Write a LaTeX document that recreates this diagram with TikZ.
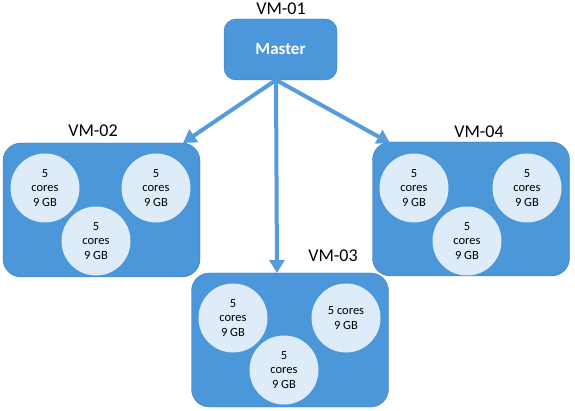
\documentclass[tikz,border=0pt]{standalone}
\usepackage{fontspec}
\setmainfont{Carlito}
\usetikzlibrary{positioning,arrows.meta}
\definecolor{vmblue}{RGB}{76,150,218}
\definecolor{vmedge}{RGB}{58,118,182}
\definecolor{corefill}{RGB}{222,235,248}
\definecolor{linkblue}{RGB}{86,155,220}

\begin{document}
\begin{tikzpicture}[x=1pt,y=-1pt,>={Triangle[length=13pt,width=15pt]},
    vm node/.style={rounded corners=18pt,draw=vmedge,fill=vmblue,minimum width=197pt,minimum height=134pt},
    master node/.style={rounded corners=12pt,draw=vmedge,fill=vmblue,minimum width=113pt,minimum height=61pt,text=white,font=\fontsize{17}{20}\selectfont\bfseries},
    core node/.style={circle,fill=corefill,minimum size=69pt,inner sep=0pt,align=center,font=\fontsize{12.5}{14.5}\selectfont},
    vm label/.style={font=\fontsize{18}{21}\selectfont},
    link/.style={->,draw=linkblue,line width=4pt}]
            \useasboundingbox (0,0) rectangle (575,411);

            \node[master node] (1) at (280.5,49.5) {Master};
            \node[vm node] (2) at (101.5,210) {};
            \node[vm node] (3) at (290,340) {};
            \node[vm node] (4) at (471,209) {};

            \node[vm label] (l1) at (281,9) {VM-01};
            \node[vm label] (l2) at (93,131) {VM-02};
            \node[vm label] (l3) at (333,256) {VM-03};
            \node[vm label] (l4) at (479,132) {VM-04};

            % executors on VM-02
            \node[core node] (c21) at (45,188) {5\\cores\\9 GB};
            \node[core node] (c22) at (156,188) {5\\cores\\9 GB};
            \node[core node] (c23) at (96,241) {5\\cores\\9 GB};

            % executors on VM-03
            \node[core node] (c31) at (233,318) {5\\cores\\9 GB};
            \node[core node] (c32) at (346,318) {5 cores\\9 GB};
            \node[core node] (c33) at (284,370) {5\\cores\\9 GB};

            % executors on VM-04
            \node[core node] (c41) at (414,188) {5\\cores\\9 GB};
            \node[core node] (c42) at (527,188) {5\\cores\\9 GB};
            \node[core node] (c43) at (467,241) {5\\cores\\9 GB};

            \coordinate (hub) at (276,80);
            \coordinate (t2) at (183,143);
            \coordinate (t3) at (277,273);
            \coordinate (t4) at (390,143);

            \draw[link] (hub) -- (t2);
            \draw[link] (hub) -- (t3);
            \draw[link] (hub) -- (t4);
        \end{tikzpicture}
\end{document}
